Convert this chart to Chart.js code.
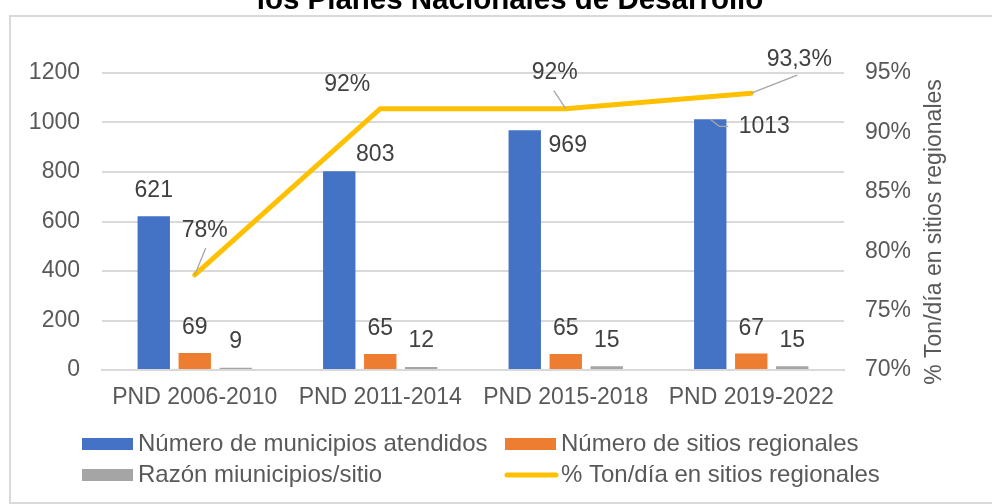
<!DOCTYPE html>
<html>
<head>
<meta charset="utf-8">
<script src="https://cdn.jsdelivr.net/npm/chart.js@4.4.1/dist/chart.umd.min.js"></script>
<style>
  html, body { margin: 0; padding: 0; background: #fff; }
  #wrap { position: relative; width: 992px; height: 504px; overflow: hidden; }
  #frame { position: absolute; left: 9px; top: 15px; width: 1000px; height: 489px; border: 2px solid #d9d9d9; box-sizing: border-box; }
  canvas { position: absolute; left: 0; top: 0; }
</style>
</head>
<body>
<div id="wrap">
  <div id="frame"></div>
  <canvas id="c" width="992" height="504"></canvas>
</div>
<script>
// ---- data ----
const categories = ['PND 2006-2010', 'PND 2011-2014', 'PND 2015-2018', 'PND 2019-2022'];
const municipios = [621, 803, 969, 1013];
const sitios = [69, 65, 65, 67];
const razon = [9, 12, 15, 15];
const tonDia = [78, 92, 92, 93.3];
const seriesNames = ['Número de municipios atendidos', 'Número de sitios regionales', 'Razón miunicipios/sitio', '% Ton/día en sitios regionales'];
const leftTicks = [0, 200, 400, 600, 800, 1000, 1200];
const rightTicks = [70, 75, 80, 85, 90, 95];
const titleText = 'los Planes Nacionales de Desarrollo';
const rightAxisTitle = '% Ton/día en sitios regionales';

// ---- styles ----
const FONT = '"Liberation Sans", Arial, sans-serif';
const colors = ['#4472C4', '#ED7D31', '#A5A5A5', '#FFC000'];
// label offsets (dx, dy from element anchor to text centre) per dataset index
const labelOffsets = {
  0: [[0, -26], [36, -17], [43, 15], [54, 7]],
  1: [[0, -25], [0, -25], [0, -25], [0, -25]],
  2: [[0, -26], [0, -26], [0, -26], [0, -26]],
  3: [[10, -44], [-33, -24], [-11, -36], [48, -34]]
};
const leaders = {
  '0-3': [[0, 0], [9, 7], [18, 7]],
  '3-0': [[0, 0], [11, -27]],
  '3-2': [[0, 0], [-12, -18]],
  '3-3': [[0, 0], [46, -18]]
};

function fmtNum(v) { return String(v).replace('.', ','); }

const labelPlugin = {
  id: 'labels',
  afterDatasetsDraw(chart) {
    const ctx = chart.ctx;
    ctx.save();
    ctx.strokeStyle = '#A6A6A6';
    ctx.lineWidth = 1.3;
    Object.keys(leaders).forEach(k => {
      const [di, pi] = k.split('-').map(Number);
      const el = chart.getDatasetMeta(di).data[pi];
      const pts = leaders[k];
      ctx.beginPath();
      pts.forEach((p, i) => {
        const x = el.x + p[0], y = el.y + p[1];
        if (i === 0) ctx.moveTo(x, y); else ctx.lineTo(x, y);
      });
      ctx.stroke();
    });
    ctx.font = '23px ' + FONT;
    ctx.fillStyle = '#404040';
    ctx.textAlign = 'center';
    ctx.textBaseline = 'middle';
    chart.data.datasets.forEach((ds, di) => {
      const meta = chart.getDatasetMeta(di);
      meta.data.forEach((el, pi) => {
        const off = labelOffsets[di][pi];
        let txt = fmtNum(ds.data[pi]);
        if (di === 3) txt += '%';
        ctx.fillText(txt, el.x + off[0], el.y + off[1]);
      });
    });
    ctx.restore();
  }
};

const decorPlugin = {
  id: 'decor',
  afterDraw(chart) {
    const ctx = chart.ctx;
    ctx.save();
    ctx.font = 'bold 29.5px ' + FONT;
    ctx.fillStyle = '#000000';
    ctx.textAlign = 'center';
    ctx.textBaseline = 'alphabetic';
    ctx.fillText(titleText, 510, 9);
    ctx.font = '23px ' + FONT;
    ctx.fillStyle = '#595959';
    ctx.translate(935, 232);
    ctx.rotate(-Math.PI / 2);
    ctx.textBaseline = 'middle';
    ctx.fillText(rightAxisTitle, 0, 0);
    ctx.restore();
    // legend
    ctx.save();
    const cols = [82, 505], rows = [444, 475];
    ctx.font = '24px ' + FONT;
    ctx.textBaseline = 'middle';
    ctx.textAlign = 'left';
    chart.data.datasets.forEach((ds, i) => {
      const x = cols[i % 2], y = rows[Math.floor(i / 2)];
      if (ds.type === 'line') {
        ctx.strokeStyle = ds.borderColor;
        ctx.lineWidth = 5;
        ctx.lineCap = 'round';
        ctx.beginPath();
        ctx.moveTo(x + 2, y); ctx.lineTo(x + 51, y);
        ctx.stroke();
      } else {
        ctx.fillStyle = ds.backgroundColor;
        ctx.fillRect(x, y - 6, 51, 12);
      }
      ctx.fillStyle = '#595959';
      ctx.fillText(ds.label, x + 56, y);
    });
    ctx.restore();
  }
};

new Chart(document.getElementById('c'), {
  data: {
    labels: categories,
    datasets: [
      { type: 'bar', label: seriesNames[0], data: municipios, backgroundColor: colors[0], yAxisID: 'y', order: 2 },
      { type: 'bar', label: seriesNames[1], data: sitios, backgroundColor: colors[1], yAxisID: 'y', order: 2 },
      { type: 'bar', label: seriesNames[2], data: razon, backgroundColor: colors[2], yAxisID: 'y', order: 2 },
      { type: 'line', label: seriesNames[3], data: tonDia, borderColor: colors[3], backgroundColor: colors[3],
        borderWidth: 5, pointRadius: 0, borderCapStyle: 'round', yAxisID: 'y1', order: 1, tension: 0 }
    ]
  },
  options: {
    responsive: false,
    animation: false,
    devicePixelRatio: 1,
    layout: { padding: { top: 73, left: 0, right: 0, bottom: 0 } },
    datasets: { bar: { categoryPercentage: 0.663, barPercentage: 0.79 } },
    plugins: { legend: { display: false }, tooltip: { enabled: false }, title: { display: false } },
    scales: {
      x: {
        grid: { display: false, drawTicks: false },
        border: { display: true, color: '#d9d9d9', width: 2 },
        ticks: { color: '#595959', font: { family: FONT, size: 23 }, padding: 14, maxRotation: 0 },
        afterFit(s) { s.height = 134; }
      },
      y: {
        position: 'left', min: 0, max: 1200,
        afterBuildTicks(s) { s.ticks = leftTicks.map(v => ({ value: v })); },
        grid: { color: '#d9d9d9', lineWidth: 2, drawTicks: false },
        border: { display: false },
        ticks: { color: '#595959', font: { family: FONT, size: 23 }, padding: 22, callback: v => String(v) },
        afterFit(s) { s.width = 102; }
      },
      y1: {
        position: 'right', min: 70, max: 95,
        afterBuildTicks(s) { s.ticks = rightTicks.map(v => ({ value: v })); },
        grid: { display: false, drawTicks: false },
        border: { display: false },
        ticks: { color: '#595959', font: { family: FONT, size: 23 }, padding: 21, callback: v => v + '%' },
        afterFit(s) { s.width = 148; }
      }
    }
  },
  plugins: [labelPlugin, decorPlugin]
});
</script>
</body>
</html>
